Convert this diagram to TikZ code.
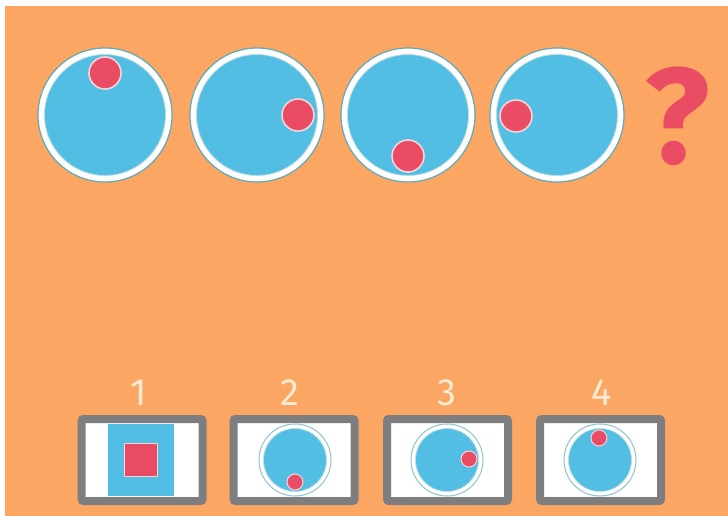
\documentclass[tikz,border=0pt]{standalone}
\usepackage{fontspec}
\newfontfamily\qfont{Fira Sans}
\newfontfamily\numfont{Fira Sans}
\definecolor{bgorange}{HTML}{FCA664}
\definecolor{ballblue}{HTML}{52BEE4}
\definecolor{ringedge}{HTML}{5FA9B8}
\definecolor{dotred}{HTML}{EA4C63}
\definecolor{dotrim}{HTML}{F6D3D9}
\definecolor{framegray}{HTML}{7E7E80}
\definecolor{numcream}{HTML}{FCEBD2}
\tikzset{
  x=1pt, y=-1pt,
  bigring/.style={circle, inner sep=0, minimum size=134, draw=ringedge, line width=1.2, fill=white},
  bigfill/.style={circle, inner sep=0, minimum size=121, draw=ringedge!40!white, line width=0.8, fill=ballblue},
  bigdot/.style={circle, inner sep=0, minimum size=32, draw=dotrim, line width=1.6, fill=dotred},
  smallring/.style={circle, inner sep=0, minimum size=72, draw=ringedge!70!white, line width=1, fill=white},
  smallfill/.style={circle, inner sep=0, minimum size=63, draw=ringedge!40!white, line width=0.8, fill=ballblue},
  smalldot/.style={circle, inner sep=0, minimum size=16, draw=dotrim, line width=1, fill=dotred},
  answerbox/.style={rectangle, inner sep=0, minimum width=121, minimum height=82, draw=framegray, line width=8, fill=white, rounded corners=2},
  numlabel/.style={font=\numfont\fontsize{38}{38}\selectfont, text=numcream, inner sep=0},
}
\begin{document}
\begin{tikzpicture}
\useasboundingbox (0,0) rectangle (728,516);
\fill[white] (0,0) rectangle (728,516);
\fill[bgorange] (5,6) rectangle (728,516);
% sequence
\node[bigring] (r1) at (105,115) {};
\node[bigfill] (b1) at (r1.center) {};
\node[bigdot] (d1) at (105,73) {};
\node[bigring] (r2) at (257,115) {};
\node[bigfill] (b2) at (r2.center) {};
\node[bigdot] (d2) at (298,115) {};
\node[bigring] (r3) at (408,115) {};
\node[bigfill] (b3) at (r3.center) {};
\node[bigdot] (d3) at (408,156) {};
\node[bigring] (r4) at (557,115) {};
\node[bigfill] (b4) at (r4.center) {};
\node[bigdot] (d4) at (516,116) {};
\node[font=\qfont\bfseries\fontsize{136}{136}\selectfont, text=dotred, inner sep=0] (q) at (677,116) {?};
% answers
\node[numlabel] (n1) at (139,393) {1};
\node[numlabel] (n2) at (290,393) {2};
\node[numlabel] (n3) at (447,393) {3};
\node[numlabel] (n4) at (602,393) {4};
\node[answerbox] (a1) at (142,460) {};
\node[answerbox] (a2) at (294,460) {};
\node[answerbox] (a3) at (447.5,460) {};
\node[answerbox] (a4) at (600.5,460) {};
% option 1
\fill[ballblue] (108,424) rectangle (174,496);
\node[rectangle, inner sep=0, minimum size=33, fill=dotred, draw=dotrim, line width=1.2] (s1) at (141,460) {};
% option 2
\node[smallring] (c2) at (295,460) {};
\node[smallfill] at (c2.center) {};
\node[smalldot] (e2) at (295,482) {};
% option 3
\node[smallring] (c3) at (447,460) {};
\node[smallfill] at (c3.center) {};
\node[smalldot] (e3) at (469,459) {};
% option 4
\node[smallring] (c4) at (600,460) {};
\node[smallfill] at (c4.center) {};
\node[smalldot] (e4) at (599,438) {};
\end{tikzpicture}
\end{document}
